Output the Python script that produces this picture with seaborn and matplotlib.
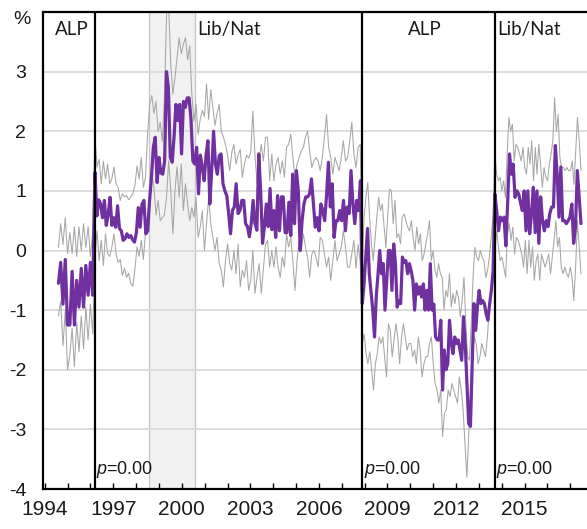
import numpy as np
import pandas as pd
import matplotlib
matplotlib.use("Agg")
import matplotlib.pyplot as plt
import matplotlib.transforms as mtransforms
from matplotlib import font_manager
import seaborn as sns

# ---------------- data ----------------
# period boundaries (start of data, election dates, end of data), decimal years
period_bounds = [1994.6, 1996.2, 2007.9, 2013.7, 2017.47]
period_names = ["ALP", "Lib/Nat", "ALP", "Lib/Nat"]
p_values = ["0.00", "0.00", "0.00"]
shaded_span = [1998.56, 2000.58]

# central estimate (%), one list per period
mean_alp1 = [-0.55, -0.2, -0.9, -0.15, -1.25, -1.25, -0.35, -1.25, -0.5, -0.95,
             -0.3, -0.95, -0.25, -0.75, -0.2, -0.75]
mean_lib1 = [1.31, 0.58, 0.85, 0.78, 0.55, 0.84, 0.42, 0.6, 0.89, 0.42, 0.55, 0.39,
             0.75, 0.37, 0.33, 0.17, 0.2, 0.28, 0.22, 0.25, 0.18, 0.14, 0.3, 0.72,
             0.39, 0.78, 0.84, 0.28, 0.33, 0.84, 1.23, 1.73, 1.9, 1.14, 1.56, 1.3, 1.28,
             1.5, 3.0, 2.73, 1.56, 1.48, 1.9, 2.45, 2.18, 2.45, 1.62, 2.5, 2.4, 2.56,
             2.56, 2.2, 1.5, 1.45, 1.73, 0.95, 1.6, 1.4, 1.17, 1.6, 1.84, 0.78, 1.34,
             2.0, 1.45, 1.28, 1.59, 1.62, 1.12, 1.0, 0.92, 0.62, 0.28, 0.67, 0.73, 1.12,
             0.62, 0.67, 0.84, 0.84, 0.45, 0.4, 0.23, 0.45, 0.84, 0.45, 0.34, 1.62, 1.0,
             0.12, 0.4, 0.78, 0.4,
             1.04, 0.35, 0.67, 0.22, 0.92, 0.33, 0.9, 0.9, 0.3, 0.3, 0.81, 0.25, 1.28,
             0.45, 1.34, 1.0, 0.0, 0.5, 0.78, 0.9, 0.9, 0.95, 1.2, 0.8, 0.39, 0.55, 0.33,
             0.78, 0.67, 0.5, 0.92, 1.48, 0.73, 1.12, 0.22, 0.5, 0.5, 0.67, 0.5, 0.84,
             0.33, 0.73, 0.62, 1.34, 0.78, 0.45, 0.84, 0.67, 1.17]
mean_alp2 = [-0.89, -0.56, -0.1, 0.37, -0.39, -0.7, -1.0, -1.45, -0.77, -0.4, 0.0,
             -0.39, -0.22, -1.0, -0.5, 0.0, 0.0, -0.67,
             0.11, -0.22, -0.95, -0.84, -0.89, -0.11, -0.2, -0.17, -0.39, -0.22, -0.34,
             -0.5, -1.0, -0.56, -0.73, -0.61, -0.78, -0.56, -1.0, -0.67, -1.0, -0.22,
             -1.0, -0.9, -1.45, -1.5, -1.5, -1.17, -2.34, -1.67, -2.0, -1.9, -1.17,
             -1.56, -1.73, -1.45, -1.56, -1.5, -1.67, -1.84, -1.11, -1.56, -2.23, -2.9,
             -2.95, -1.9, -0.89, -1.34, -0.95, -0.67, -0.89, -0.84, -0.89, -1.06, -1.17,
             -0.9, -0.67, -0.34]
mean_lib2 = [0.95, 0.67, 0.33, 0.56, 0.5, 0.56, 0.08, 0.8, 1.62, 1.28, 1.45, 0.89,
             1.0, 0.95, 0.8, 0.67, 1.0, 0.33, 1.0, 0.28, 0.62, 1.06, 0.3, 1.0, 0.12,
             0.9, 0.5, 0.33, 0.5, 0.4, 0.62, 0.73, 0.73, 1.76, 1.28, 0.56, 1.4, 0.5,
             0.5, 0.45, 0.5, 0.56, 0.78, 0.12, 0.4, 1.34, 0.89, 0.45]

# upper confidence bound (%)
upper_alp1 = [0.05, 0.45, 0.1, 0.55, -0.05, 0.3, -0.05, 0.4, -0.1, 0.4, 0.0, 0.45,
              0.05, 0.4, -0.1, 0.3]
upper_lib1 = [1.9, 1.4, 1.53, 1.12, 1.5, 1.2, 1.45, 1.12, 1.2, 1.4, 1.12, 1.06, 0.84,
              0.95, 0.9, 0.92, 0.85, 0.9, 0.95, 1.1, 1.42, 1.2, 1.56, 1.06, 1.23, 1.95,
              2.45, 2.6, 2.3, 2.5, 2.0, 2.15, 1.83,
              2.56, 3.96, 4.1, 3.12, 2.62, 2.9, 3.23, 3.57, 3.3, 3.46, 3.57, 3.2, 3.43,
              2.62, 2.17, 2.45, 1.95, 2.2, 2.35, 2.25, 2.79, 2.2, 2.7, 2.4, 2.1, 2.3,
              2.45, 2.0, 1.9, 1.78, 1.6, 1.34, 1.65, 1.78, 1.45, 1.6, 1.7, 1.23, 1.45,
              1.6, 1.55, 1.65, 2.34, 1.6, 1.12, 1.55, 1.78, 1.5, 1.9,
              1.9, 1.17, 1.62, 1.17, 1.45, 1.56, 1.28, 1.5, 1.23, 1.73, 1.78, 1.95, 1.56,
              1.23, 1.45, 1.56, 1.67, 1.73, 1.9, 2.0, 1.67, 1.39, 1.5, 1.56, 1.5, 1.34,
              1.56, 1.9, 2.28, 1.73, 1.56, 1.28, 1.56, 1.45, 1.34, 1.56, 1.84, 1.5, 1.56,
              1.84, 2.15, 1.62, 1.39, 1.73, 1.78]
upper_alp2 = [-0.17, 0.56, 0.9, 1.14, 0.56, 0.11, -0.17, 0.2, 0.56, 0.89, 0.67, 0.78,
              0.4, 0.05, 0.6, 1.03, 1.0, 0.45,
              0.84, 0.22, 0.28, 0.11, 0.56, 0.61, 0.5, 0.39, 0.33, 0.5, 0.22, 0.0, 0.39,
              0.11, 0.28, -0.17, -0.06, 0.11, 0.28, 0.5, -0.17, 0.0, -0.33, -0.45, -0.22,
              -0.39, -0.45, -1.0, -0.67, -0.78, -0.39, -0.95, -0.72, -0.89, -0.67, -0.78,
              -1.11, -0.84, -0.45, -1.22, -1.78, -1.84, -1.22, -0.45, 0.05, -0.11, -0.17,
              0.0, -0.11, -0.17, -0.45, -0.33, -0.11, 0.22, 0.56]
upper_lib2 = [1.62, 1.28, 1.17, 1.23, 1.0, 1.17, 0.89, 1.62, 2.23, 2.0, 2.12, 1.5,
              1.78, 1.73, 1.62, 1.5, 1.73, 1.39, 1.28, 1.73, 1.45, 1.84, 1.17, 1.73,
              1.28, 1.78, 1.45, 1.06, 1.39, 1.23, 1.17, 1.45, 1.62, 1.84, 2.56, 2.0,
              2.28, 1.56, 1.39, 1.39, 1.34, 1.39, 1.34, 1.34, 1.5, 1.11, 1.67, 2.23,
              1.84, 1.34]

# lower confidence bound (%)
lower_alp1 = [-1.1, -0.85, -1.6, -1.0, -2.0, -1.75, -1.3, -1.95, -1.2, -1.7, -1.1,
              -1.65, -0.95, -1.5, -0.9, -1.4]
lower_lib1 = [-0.1, 0.33, -0.17, 0.17, -0.25, 0.28, -0.05, -0.1, 0.05, 0.28, -0.05,
              -0.2, -0.15, -0.42, -0.3, -0.45, -0.38, -0.55, -0.6, -0.3, 0.06, -0.1,
              0.17, -0.15, 0.3, 0.6, 0.89, 1.28, 1.06, 0.6, 0.84, 0.5, 0.55,
              0.6, 0.9, 1.5, 1.0, 0.28, 1.0, 1.4, 0.89, 1.45, 0.67, 1.12, 0.78, 0.5,
              0.72, 0.56, 0.89, 0.22, 0.39, 0.67, 0.0, 0.45, 0.89, 0.45, 0.22, 0.0, 0.22,
              -0.22, -0.33, -0.61, -0.17, 0.11, -0.22, -0.33, 0.0, -0.39, 0.11, -0.61,
              -0.33, -0.45, -0.17, -0.67, -0.5, 0.0, -0.72, -0.45, -0.22, -0.72, -0.3, 0.1,
              0.17, -0.28, 0.0, -0.28, 0.06, -0.28, -0.45, -0.11, -0.28, 0.28, 0.06, 0.22,
              -0.17, -0.67, -0.17, 0.17, 0.0, 0.28, 0.06, -0.11, -0.45, -0.06, 0.0, -0.11,
              -0.28, 0.22, 0.17, -0.06, -0.28, -0.11, -0.5, -0.17, 0.17, -0.17, -0.06,
              0.06, 0.33, 0.06, -0.28, -0.28, -0.06, 0.17, -0.3, 0.1, -0.2]
lower_alp2 = [-1.56, -1.4, -1.73, -1.9, -1.7, -2.0, -2.34, -1.9, -1.73, -1.45, -1.56,
              -1.45, -1.8, -2.12, -1.23, -1.34, -1.78, -1.5,
              -1.23, -1.45, -1.9, -1.45, -1.23, -1.45, -1.67, -1.56, -1.56, -1.78, -1.67,
              -1.9, -1.45, -1.67, -2.12, -1.9, -1.78, -1.78, -1.56, -1.45, -1.9, -2.23,
              -2.34, -2.56, -2.34, -3.12, -2.73, -2.67, -2.34, -2.45, -2.23, -2.34, -2.45,
              -2.56, -2.12, -2.34, -2.67, -3.23, -3.8, -3.12, -2.23, -1.78, -1.45, -1.56,
              -1.9, -1.78, -1.56, -1.67, -1.78, -1.45, -1.0, -0.6, -0.3]
lower_lib2 = [-0.06, 0.33, 0.06, -0.17, -0.11, -0.28, -0.45, 0.28, 0.45, 0.17, 0.39,
              -0.06, 0.22, 0.17, 0.06, -0.06, -0.28, 0.17, -0.39, 0.17, -0.28, 0.06,
              -0.5, -0.17, -0.06, -0.5, -0.06, -0.17, -0.28, -0.17, -0.06, -0.39, -0.11,
              0.17, 0.5, 0.06, 0.22, -0.28, -0.39, -0.28, -0.39, -0.45, -0.28, -0.45,
              -0.84, -0.28, 0.5, 0.06, -0.39]

y_tick_values = [-4, -3, -2, -1, 0, 1, 2, 3]
x_tick_years = list(range(1994, 2018))
x_label_years = [1994, 1997, 2000, 2003, 2006, 2009, 2012, 2015]


def period_dates(lists):
    out = []
    for i, vals in enumerate(lists):
        last = i == len(lists) - 1
        out.append(np.linspace(period_bounds[i], period_bounds[i + 1], len(vals),
                               endpoint=last))
    return np.concatenate(out)


series = {
    "mean": [mean_alp1, mean_lib1, mean_alp2, mean_lib2],
    "upper": [upper_alp1, upper_lib1, upper_alp2, upper_lib2],
    "lower": [lower_alp1, lower_lib1, lower_alp2, lower_lib2],
}
frames = []
for name, lists in series.items():
    frames.append(pd.DataFrame({"date": period_dates(lists),
                                "value": np.concatenate([np.array(v, float) for v in lists]),
                                "series": name}))
df = pd.concat(frames, ignore_index=True)

# ---------------- style ----------------
sns.set_theme(style="white")
plt.rcParams["font.family"] = ["Liberation Sans", "DejaVu Sans"]
plt.rcParams["mathtext.fontset"] = "custom"
plt.rcParams["mathtext.it"] = "Liberation Sans:italic"
plt.rcParams["mathtext.rm"] = "Liberation Sans"

installed = {f.name for f in font_manager.fontManager.ttflist}
narrow = "Liberation Sans Narrow" if "Liberation Sans Narrow" in installed else None

W, H = 587, 529
fig = plt.figure(figsize=(W / 100, H / 100), dpi=100)
ax_left_px, ax_bottom_px, ax_top_px = 43, 489, 12
ax = fig.add_axes([ax_left_px / W, 1 - ax_bottom_px / H,
                   (W - ax_left_px) / W, (ax_bottom_px - ax_top_px) / H])

px_per_year = 22.85
year0_px = 44.7
x_left = 1994 + (ax_left_px - year0_px) / px_per_year
x_right = 1994 + (W - year0_px) / px_per_year
ax.set_xlim(x_left, x_right)
ax.set_ylim(-4, 4)

# shaded period and grid
ax.axvspan(shaded_span[0], shaded_span[1], facecolor="#f1f1f1", edgecolor="#c4c4c4",
           lw=0.9, zorder=0.5)
for v in y_tick_values[1:]:
    ax.axhline(v, color="#d9d9d9", lw=1.3, zorder=0.8)

# lines
sub = df[df.series == "upper"]
sns.lineplot(data=sub, x="date", y="value", ax=ax, color="#a6a6a6", lw=0.75,
             estimator=None, sort=False, zorder=2)
sub = df[df.series == "lower"]
sns.lineplot(data=sub, x="date", y="value", ax=ax, color="#a6a6a6", lw=0.75,
             estimator=None, sort=False, zorder=2)
sub = df[df.series == "mean"]
sns.lineplot(data=sub, x="date", y="value", ax=ax, color="#7030A0", lw=2.3,
             estimator=None, sort=False, zorder=3)

# election lines
for b in period_bounds[1:-1]:
    ax.axvline(b, color="black", lw=1.6, zorder=4)

# period labels
label_x = [1994.45, 2000.67, 2010.64, 2013.79]
label_ha = ["left", "left", "center", "left"]
for name, lx, ha in zip(period_names, label_x, label_ha):
    ax.text(lx, 3.7, name, ha=ha, va="center", fontsize=13.5,
            family=["Lato", "DejaVu Sans"], color="#1a1a1a", zorder=5)

# p-values
for b, p in zip(period_bounds[1:-1], p_values):
    ax.text(b + 0.06, -3.68, r"$p$=" + p, ha="left", va="center", fontsize=13,
            color="#1a1a1a", zorder=5)

# axes styling
for s in ["left", "bottom", "top"]:
    ax.spines[s].set_visible(True)
    ax.spines[s].set_color("black")
    ax.spines[s].set_linewidth(1.6)
ax.spines["right"].set_visible(False)

ax.set_yticks(y_tick_values)
ax.set_yticklabels([str(v) for v in y_tick_values])
ax.tick_params(axis="y", length=0, pad=12, labelsize=14, labelcolor="#1a1a1a")
trans = mtransforms.blended_transform_factory(ax.transAxes, ax.transData)
ax.text(-12 / (W - ax_left_px), 3.88, "%", transform=trans, ha="right",
        va="center", fontsize=14, color="#1a1a1a")

ax.set_xticks(x_tick_years)
ax.set_xticklabels([str(y) if y in x_label_years else "" for y in x_tick_years])
ax.tick_params(axis="x", direction="in", length=4, width=1.0, color="black",
               pad=8, labelsize=17 if narrow else 15, labelcolor="#1a1a1a", bottom=True)
if narrow:
    for lbl in ax.get_xticklabels():
        lbl.set_family([narrow, "Liberation Sans"])
ax.set_xlabel("")
ax.set_ylabel("")
ax.grid(False)

fig.savefig("out.png", dpi=100)
